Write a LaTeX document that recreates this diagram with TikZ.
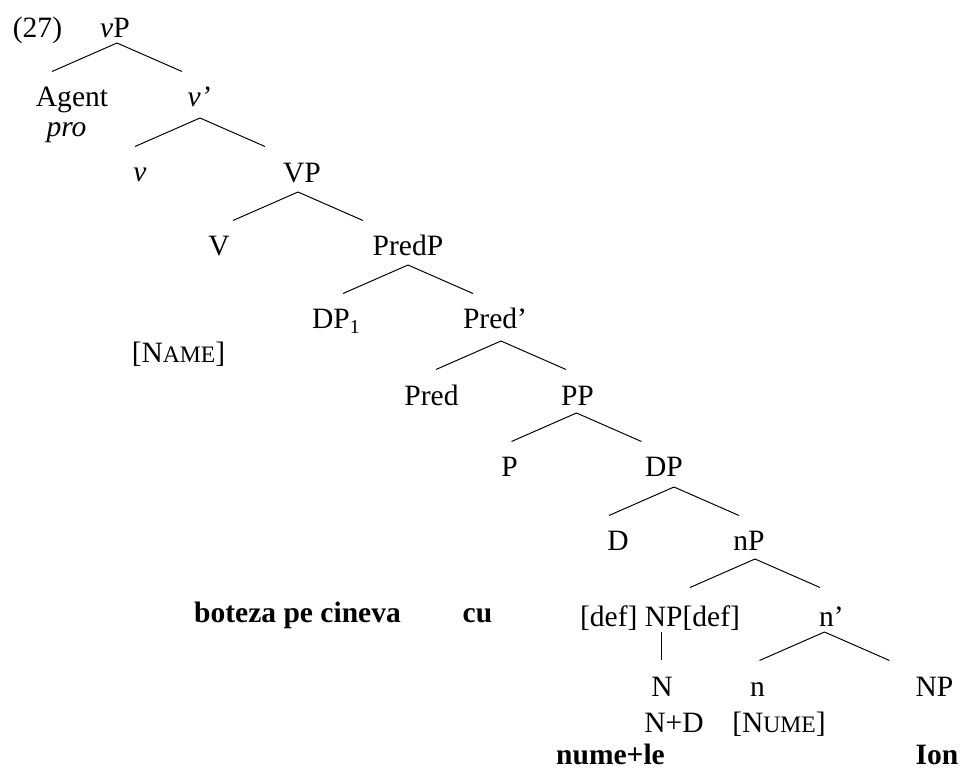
\documentclass[tikz,border=0pt]{standalone}
\usepackage{fontspec}
\setmainfont{Liberation Serif}
\newcommand{\smcap}[1]{{\fontsize{9.6}{10}\selectfont #1}}
% two daughters under a node: apex shifted from the base, free ends named
\newcommand{\branch}[2]{%
  \draw ([shift={#2}]#1.base) coordinate (#1-top) -- +(-65,28.5) coordinate (#1-l)
        (#1-top) -- +(65,28.5) coordinate (#1-r);}
\begin{document}
\begin{tikzpicture}[x=0.4065pt,y=-0.4065pt,
    lbl/.style={anchor=base,inner sep=0pt,font=\fontsize{12}{14}\selectfont},
    word/.style={lbl,font=\fontsize{12}{14}\selectfont\bfseries}]
    \useasboundingbox (0,0) rectangle (960,770);

    \node[lbl] (ex) at (37.5,38) {(27)};
    \node[lbl] (vP) at (115,38) {\textit{v}P};
    \node[lbl] (Agent) at (72,107) {Agent};
    \node[lbl] (pro) at (66.5,137) {\textit{pro}};
    \node[lbl] (vbar) at (199,107) {\textit{v'}};
    \node[lbl] (v) at (140,182) {\textit{v}};
    \node[lbl] (VP) at (302,183) {VP};
    \node[lbl] (V) at (219,256) {V};
    \node[lbl] (PredP) at (408,256) {PredP};
    \node[lbl] (DPone) at (336.5,329) {DP\textsubscript{1}};
    \node[lbl] (Predbar) at (495,329) {Pred'};
    \node[lbl] (name) at (178.5,363) {[N\smcap{AME}]};
    \node[lbl] (Pred) at (431.5,406) {Pred};
    \node[lbl] (PP) at (577.5,406) {PP};
    \node[lbl] (P) at (509.5,477) {P};
    \node[lbl] (DP) at (664,477) {DP};
    \node[lbl] (D) at (618,551) {D};
    \node[lbl] (nP) at (749,551) {nP};
    \node[lbl] (NPdef) at (660,626) {[def] NP[def]};
    \node[lbl] (nbar) at (831.5,626) {n'};
    \node[lbl] (N) at (662,696) {N};
    \node[lbl] (n) at (757.5,696) {n};
    \node[lbl] (NP) at (934.5,696) {NP};
    \node[lbl] (ND) at (674,732) {N+D};
    \node[lbl] (nume) at (779,732) {[N\smcap{UME}]};

    \node[word] (boteza) at (297.5,623) {boteza pe cineva};
    \node[word] (cu) at (477.5,623) {cu};
    \node[word] (numele) at (610.5,765) {nume+le};
    \node[word] (Ion) at (937,765) {Ion};

    \branch{vP}{(2,5)}
    \branch{vbar}{(1,11)}
    \branch{VP}{(-4,9)}
    \branch{PredP}{(0,9)}
    \branch{Predbar}{(6,12)}
    \branch{PP}{(-1,7)}
    \branch{DP}{(10,10)}
    \branch{nP}{(6,8)}
    \branch{nbar}{(-7,6)}
    \draw ([shift={(1,6)}]NPdef.base) -- +(0,28) coordinate (NPdef-d);
\end{tikzpicture}
\end{document}
